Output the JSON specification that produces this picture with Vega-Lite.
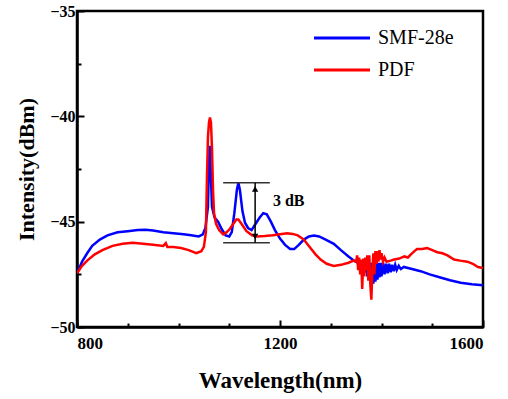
{
  "$schema": "https://vega.github.io/schema/vega-lite/v6.json",
  "width": 406,
  "height": 316,
  "autosize": {"type": "none"},
  "padding": {"left": 77, "top": 11, "right": 25, "bottom": 72},
  "config": {
    "font": "Liberation Serif",
    "view": {"stroke": "black", "strokeWidth": 2.5},
    "axis": {"domainColor": "black", "domainWidth": 2.5, "tickColor": "black", "tickWidth": 2, "labelColor": "black", "titleColor": "black", "labelFont": "Liberation Serif", "titleFont": "Liberation Serif", "grid": false}
  },
  "datasets": {
    "spectra": [
      {"s":"SMF-28e","wl":800,"val":-47.45},{"s":"SMF-28e","wl":810,"val":-46.9},{"s":"SMF-28e","wl":820,"val":-46.5},{"s":"SMF-28e","wl":830,"val":-46.15},{"s":"SMF-28e","wl":845,"val":-45.85},{"s":"SMF-28e","wl":860,"val":-45.65},{"s":"SMF-28e","wl":880,"val":-45.5},{"s":"SMF-28e","wl":900,"val":-45.45},{"s":"SMF-28e","wl":920,"val":-45.4},{"s":"SMF-28e","wl":935,"val":-45.38},{"s":"SMF-28e","wl":950,"val":-45.42},{"s":"SMF-28e","wl":970,"val":-45.5},{"s":"SMF-28e","wl":990,"val":-45.55},{"s":"SMF-28e","wl":1010,"val":-45.6},{"s":"SMF-28e","wl":1025,"val":-45.65},{"s":"SMF-28e","wl":1040,"val":-45.7},{"s":"SMF-28e","wl":1048,"val":-45.6},{"s":"SMF-28e","wl":1053,"val":-45.3},{"s":"SMF-28e","wl":1058,"val":-44.3},{"s":"SMF-28e","wl":1060,"val":-42.3},{"s":"SMF-28e","wl":1061.5,"val":-41.4},{"s":"SMF-28e","wl":1063,"val":-42.3},{"s":"SMF-28e","wl":1066,"val":-44.3},{"s":"SMF-28e","wl":1071,"val":-44.8},{"s":"SMF-28e","wl":1078,"val":-45.0},{"s":"SMF-28e","wl":1085,"val":-45.35},{"s":"SMF-28e","wl":1093,"val":-45.65},{"s":"SMF-28e","wl":1100,"val":-45.7},{"s":"SMF-28e","wl":1105,"val":-45.5},{"s":"SMF-28e","wl":1110,"val":-44.6},{"s":"SMF-28e","wl":1115,"val":-43.5},{"s":"SMF-28e","wl":1118,"val":-43.15},{"s":"SMF-28e","wl":1121,"val":-43.5},{"s":"SMF-28e","wl":1126,"val":-44.5},{"s":"SMF-28e","wl":1131,"val":-45.05},{"s":"SMF-28e","wl":1137,"val":-45.3},{"s":"SMF-28e","wl":1144,"val":-45.4},{"s":"SMF-28e","wl":1152,"val":-45.1},{"s":"SMF-28e","wl":1160,"val":-44.8},{"s":"SMF-28e","wl":1167,"val":-44.6},{"s":"SMF-28e","wl":1174,"val":-44.65},{"s":"SMF-28e","wl":1182,"val":-45.0},{"s":"SMF-28e","wl":1190,"val":-45.4},{"s":"SMF-28e","wl":1200,"val":-45.8},{"s":"SMF-28e","wl":1210,"val":-46.1},{"s":"SMF-28e","wl":1220,"val":-46.3},{"s":"SMF-28e","wl":1228,"val":-46.3},{"s":"SMF-28e","wl":1237,"val":-46.1},{"s":"SMF-28e","wl":1247,"val":-45.85},{"s":"SMF-28e","wl":1257,"val":-45.7},{"s":"SMF-28e","wl":1267,"val":-45.66},{"s":"SMF-28e","wl":1277,"val":-45.7},{"s":"SMF-28e","wl":1290,"val":-45.85},{"s":"SMF-28e","wl":1306,"val":-46.05},{"s":"SMF-28e","wl":1320,"val":-46.35},{"s":"SMF-28e","wl":1335,"val":-46.65},{"s":"SMF-28e","wl":1346,"val":-46.85},{"s":"SMF-28e","wl":1356,"val":-47.0},{"s":"SMF-28e","wl":1365,"val":-47.15},{"s":"SMF-28e","wl":1368,"val":-47.4},{"s":"SMF-28e","wl":1370,"val":-47.0},{"s":"SMF-28e","wl":1372,"val":-47.6},{"s":"SMF-28e","wl":1374,"val":-47.0},{"s":"SMF-28e","wl":1376,"val":-47.75},{"s":"SMF-28e","wl":1378,"val":-46.95},{"s":"SMF-28e","wl":1380,"val":-47.9},{"s":"SMF-28e","wl":1382,"val":-46.95},{"s":"SMF-28e","wl":1384,"val":-47.95},{"s":"SMF-28e","wl":1386,"val":-46.95},{"s":"SMF-28e","wl":1388,"val":-47.85},{"s":"SMF-28e","wl":1390,"val":-46.9},{"s":"SMF-28e","wl":1392,"val":-47.75},{"s":"SMF-28e","wl":1394,"val":-46.95},{"s":"SMF-28e","wl":1396,"val":-47.65},{"s":"SMF-28e","wl":1398,"val":-46.95},{"s":"SMF-28e","wl":1400,"val":-47.6},{"s":"SMF-28e","wl":1403,"val":-46.95},{"s":"SMF-28e","wl":1406,"val":-47.5},{"s":"SMF-28e","wl":1409,"val":-47.0},{"s":"SMF-28e","wl":1412,"val":-47.45},{"s":"SMF-28e","wl":1415,"val":-47.0},{"s":"SMF-28e","wl":1418,"val":-47.4},{"s":"SMF-28e","wl":1421,"val":-47.05},{"s":"SMF-28e","wl":1424,"val":-47.35},{"s":"SMF-28e","wl":1427,"val":-47.05},{"s":"SMF-28e","wl":1430,"val":-47.3},{"s":"SMF-28e","wl":1434,"val":-47.1},{"s":"SMF-28e","wl":1438,"val":-47.25},{"s":"SMF-28e","wl":1444,"val":-47.15},{"s":"SMF-28e","wl":1460,"val":-47.25},{"s":"SMF-28e","wl":1477,"val":-47.35},{"s":"SMF-28e","wl":1495,"val":-47.5},{"s":"SMF-28e","wl":1516,"val":-47.65},{"s":"SMF-28e","wl":1535,"val":-47.78},{"s":"SMF-28e","wl":1556,"val":-47.9},{"s":"SMF-28e","wl":1578,"val":-47.97},{"s":"SMF-28e","wl":1600,"val":-48.02},
      {"s":"PDF","wl":800,"val":-47.45},{"s":"PDF","wl":810,"val":-47.1},{"s":"PDF","wl":820,"val":-46.85},{"s":"PDF","wl":835,"val":-46.55},{"s":"PDF","wl":850,"val":-46.35},{"s":"PDF","wl":870,"val":-46.15},{"s":"PDF","wl":890,"val":-46.05},{"s":"PDF","wl":910,"val":-46.0},{"s":"PDF","wl":930,"val":-46.05},{"s":"PDF","wl":950,"val":-46.1},{"s":"PDF","wl":970,"val":-46.15},{"s":"PDF","wl":975,"val":-46.02},{"s":"PDF","wl":978,"val":-46.2},{"s":"PDF","wl":990,"val":-46.2},{"s":"PDF","wl":1005,"val":-46.25},{"s":"PDF","wl":1020,"val":-46.35},{"s":"PDF","wl":1035,"val":-46.5},{"s":"PDF","wl":1045,"val":-46.4},{"s":"PDF","wl":1050,"val":-46.2},{"s":"PDF","wl":1054,"val":-45.5},{"s":"PDF","wl":1056,"val":-43.0},{"s":"PDF","wl":1058,"val":-41.0},{"s":"PDF","wl":1060,"val":-40.3},{"s":"PDF","wl":1062,"val":-40.05},{"s":"PDF","wl":1064,"val":-40.3},{"s":"PDF","wl":1066,"val":-41.5},{"s":"PDF","wl":1068,"val":-43.5},{"s":"PDF","wl":1070,"val":-44.6},{"s":"PDF","wl":1074,"val":-45.1},{"s":"PDF","wl":1080,"val":-45.4},{"s":"PDF","wl":1088,"val":-45.6},{"s":"PDF","wl":1095,"val":-45.5},{"s":"PDF","wl":1101,"val":-45.35},{"s":"PDF","wl":1108,"val":-45.1},{"s":"PDF","wl":1114,"val":-44.9},{"s":"PDF","wl":1118,"val":-44.9},{"s":"PDF","wl":1124,"val":-45.1},{"s":"PDF","wl":1134,"val":-45.45},{"s":"PDF","wl":1145,"val":-45.65},{"s":"PDF","wl":1155,"val":-45.7},{"s":"PDF","wl":1170,"val":-45.68},{"s":"PDF","wl":1186,"val":-45.65},{"s":"PDF","wl":1200,"val":-45.6},{"s":"PDF","wl":1214,"val":-45.55},{"s":"PDF","wl":1225,"val":-45.58},{"s":"PDF","wl":1235,"val":-45.65},{"s":"PDF","wl":1247,"val":-45.85},{"s":"PDF","wl":1260,"val":-46.25},{"s":"PDF","wl":1270,"val":-46.55},{"s":"PDF","wl":1280,"val":-46.8},{"s":"PDF","wl":1292,"val":-47.0},{"s":"PDF","wl":1306,"val":-47.1},{"s":"PDF","wl":1320,"val":-47.05},{"s":"PDF","wl":1335,"val":-46.95},{"s":"PDF","wl":1345,"val":-46.85},{"s":"PDF","wl":1350,"val":-46.9},{"s":"PDF","wl":1352,"val":-46.6},{"s":"PDF","wl":1354,"val":-47.3},{"s":"PDF","wl":1356,"val":-46.7},{"s":"PDF","wl":1358,"val":-47.5},{"s":"PDF","wl":1360,"val":-46.8},{"s":"PDF","wl":1362,"val":-48.2},{"s":"PDF","wl":1364,"val":-46.75},{"s":"PDF","wl":1366,"val":-47.6},{"s":"PDF","wl":1368,"val":-46.7},{"s":"PDF","wl":1370,"val":-47.3},{"s":"PDF","wl":1372,"val":-46.6},{"s":"PDF","wl":1374,"val":-47.8},{"s":"PDF","wl":1376,"val":-46.6},{"s":"PDF","wl":1378,"val":-48.0},{"s":"PDF","wl":1380,"val":-48.7},{"s":"PDF","wl":1382,"val":-47.3},{"s":"PDF","wl":1384,"val":-46.5},{"s":"PDF","wl":1386,"val":-47.5},{"s":"PDF","wl":1388,"val":-46.4},{"s":"PDF","wl":1390,"val":-47.0},{"s":"PDF","wl":1392,"val":-46.4},{"s":"PDF","wl":1394,"val":-46.9},{"s":"PDF","wl":1396,"val":-46.35},{"s":"PDF","wl":1398,"val":-46.8},{"s":"PDF","wl":1400,"val":-46.5},{"s":"PDF","wl":1403,"val":-46.9},{"s":"PDF","wl":1406,"val":-46.7},{"s":"PDF","wl":1410,"val":-46.9},{"s":"PDF","wl":1418,"val":-46.85},{"s":"PDF","wl":1425,"val":-46.8},{"s":"PDF","wl":1435,"val":-46.75},{"s":"PDF","wl":1445,"val":-46.65},{"s":"PDF","wl":1452,"val":-46.7},{"s":"PDF","wl":1458,"val":-46.55},{"s":"PDF","wl":1465,"val":-46.4},{"s":"PDF","wl":1470,"val":-46.3},{"s":"PDF","wl":1480,"val":-46.3},{"s":"PDF","wl":1490,"val":-46.25},{"s":"PDF","wl":1500,"val":-46.35},{"s":"PDF","wl":1510,"val":-46.45},{"s":"PDF","wl":1520,"val":-46.5},{"s":"PDF","wl":1530,"val":-46.6},{"s":"PDF","wl":1543,"val":-46.8},{"s":"PDF","wl":1555,"val":-46.85},{"s":"PDF","wl":1569,"val":-46.9},{"s":"PDF","wl":1580,"val":-47.0},{"s":"PDF","wl":1590,"val":-47.15},{"s":"PDF","wl":1600,"val":-47.2}
    ],
    "bracket": [
      {"x1": 1088, "x2": 1180, "y": -43.15},
      {"x1": 1088, "x2": 1180, "y": -46.0}
    ],
    "arrow": [{"x": 1151, "y1": -43.15, "y2": -46.0}],
    "heads": [
      {"x": 1151, "y": -43.45, "shape": "triangle-up"},
      {"x": 1151, "y": -45.7, "shape": "triangle-down"}
    ],
    "label": [{"x": 1186, "y": -44.0, "text": "3 dB"}]
  },
  "layer": [
    {
      "data": {"name": "spectra"},
      "transform": [{"filter": "datum.s === 'SMF-28e'"}],
      "mark": {"type": "line", "strokeWidth": 2.5, "clip": true},
      "encoding": {
        "x": {"field": "wl", "type": "quantitative", "scale": {"domain": [800, 1600], "nice": false},
          "axis": {"orient": "bottom", "values": [800, 1200, 1600], "format": "d", "tickSize": -7, "labelPadding": 15, "labelFontSize": 17, "labelFontWeight": "bold", "title": "Wavelength(nm)", "titleFontSize": 23, "titleFontWeight": "bold", "titlePadding": 18}},
        "y": {"field": "val", "type": "quantitative", "scale": {"domain": [-50, -35], "nice": false},
          "axis": {"orient": "left", "values": [-50, -45, -40, -35], "tickSize": -7, "labelPadding": 9, "labelFontSize": 16, "labelFontWeight": "bold", "title": "Intensity(dBm)", "titleFontSize": 22, "titleFontWeight": "bold", "titlePadding": 11}},
        "color": {"field": "s", "type": "nominal", "scale": {"domain": ["SMF-28e", "PDF"], "range": ["#0000ff", "#ff0000"]},
          "legend": {"title": null, "orient": "none", "legendX": 252, "legendY": 14, "symbolType": "M-2.5,0H2.5", "symbolSize": 502, "symbolStrokeWidth": 3, "labelFontSize": 20, "labelFont": "Liberation Serif", "labelColor": "black", "rowPadding": 9, "labelOffset": 23}}
      }
    },
    {
      "data": {"name": "spectra"},
      "transform": [{"filter": "datum.s === 'PDF'"}],
      "mark": {"type": "line", "strokeWidth": 2.5, "clip": true},
      "encoding": {
        "x": {"field": "wl", "type": "quantitative",
          "axis": {"orient": "bottom", "values": [900, 1000, 1100, 1300, 1400, 1500], "tickSize": -4, "labels": false, "domain": false, "title": null}},
        "y": {"field": "val", "type": "quantitative",
          "axis": {"orient": "left", "values": [-47.5, -42.5, -37.5], "tickSize": -4, "labels": false, "domain": false, "title": null}},
        "color": {"field": "s", "type": "nominal"}
      }
    },
    {
      "data": {"name": "bracket"},
      "mark": {"type": "rule", "color": "#333333", "strokeWidth": 1.5},
      "encoding": {
        "x": {"field": "x1", "type": "quantitative", "axis": null},
        "x2": {"field": "x2"},
        "y": {"field": "y", "type": "quantitative", "axis": null}
      }
    },
    {
      "data": {"name": "arrow"},
      "mark": {"type": "rule", "color": "black", "strokeWidth": 1.5},
      "encoding": {
        "x": {"field": "x", "type": "quantitative", "axis": null},
        "y": {"field": "y1", "type": "quantitative", "axis": null},
        "y2": {"field": "y2"}
      }
    },
    {
      "data": {"name": "heads"},
      "mark": {"type": "point", "filled": true, "color": "black", "size": 40, "opacity": 1},
      "encoding": {
        "x": {"field": "x", "type": "quantitative", "axis": null},
        "y": {"field": "y", "type": "quantitative", "axis": null},
        "shape": {"field": "shape", "type": "nominal", "scale": null, "legend": null}
      }
    },
    {
      "data": {"name": "label"},
      "mark": {"type": "text", "align": "left", "baseline": "middle", "fontSize": 16, "fontWeight": "bold", "font": "Liberation Serif", "color": "black"},
      "encoding": {
        "x": {"field": "x", "type": "quantitative", "axis": null},
        "y": {"field": "y", "type": "quantitative", "axis": null},
        "text": {"field": "text"}
      }
    }
  ],
  "resolve": {"axis": {"x": "independent", "y": "independent"}}
}
